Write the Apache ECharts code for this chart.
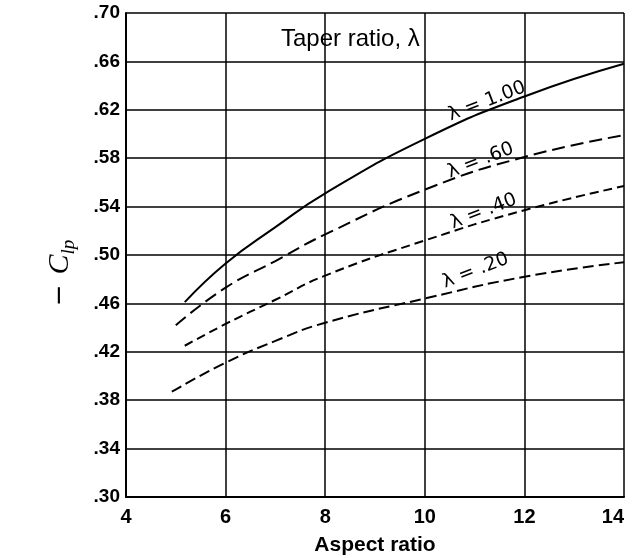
<!DOCTYPE html>
<html>
<head>
<meta charset="utf-8">
<script src="https://cdn.jsdelivr.net/npm/echarts@6/dist/echarts.min.js"></script>
<style>
  html, body { margin: 0; padding: 0; background: #fff; overflow: hidden; }
  #chart { width: 632px; height: 558px; }
</style>
</head>
<body>
<div id="chart"></div>
<script>
// values
var xTicks = [4, 6, 8, 10, 12, 14];
var yTicks = ['.30', '.34', '.38', '.42', '.46', '.50', '.54', '.58', '.62', '.66', '.70'];

var arTaper100 = [5.18, 6, 7, 8, 10, 12, 14];
var clpTaper100 = [0.461, 0.493, 0.523, 0.551, 0.596, 0.631, 0.658];

var arTaper60 = [5.0, 6, 7, 8, 10, 12, 14];
var clpTaper60 = [0.442, 0.473, 0.495, 0.517, 0.554, 0.581, 0.599];

var arTaper40 = [5.18, 6, 7, 8, 10, 12, 14];
var clpTaper40 = [0.425, 0.443, 0.463, 0.483, 0.512, 0.537, 0.557];

var arTaper20 = [4.92, 6, 7, 8, 10, 12, 14];
var clpTaper20 = [0.387, 0.411, 0.429, 0.444, 0.464, 0.482, 0.494];

var curveNames = ['\u03bb = 1.00', '\u03bb = .60', '\u03bb = .40', '\u03bb = .20'];
// where each curve's name sits (data units)
var labelAt = [[11.25, 0.627], [11.12, 0.578], [11.18, 0.536], [11.02, 0.487]];

function pairs(xs, ys) {
    var out = [];
    for (var i = 0; i < xs.length; i++) {
        out.push([xs[i], ys[i]]);
    }
    return out;
}

function makeSeries(idx, xs, ys, dash) {
    return {
        name: curveNames[idx],
        type: 'line',
        data: pairs(xs, ys),
        smooth: 0.5,
        showSymbol: false,
        silent: true,
        lineStyle: {
            color: '#000',
            width: 2,
            type: dash
        },
        markPoint: {
            symbol: 'circle',
            symbolSize: 1,
            itemStyle: { color: 'rgba(0,0,0,0)' },
            data: [{ coord: labelAt[idx], value: curveNames[idx] }],
            label: {
                show: true,
                position: 'inside',
                rotate: 21,
                color: '#000',
                fontSize: 19,
                fontFamily: 'DejaVu Sans',
                formatter: curveNames[idx]
            }
        }
    };
}

var myChart = echarts.init(document.getElementById('chart'));

var tickFont = {
    color: '#000',
    fontWeight: 'bold',
    fontFamily: 'Liberation Sans',
};

var option = {
    animation: false,
    backgroundColor: '#fff',
    grid: {
        left: 126,
        right: 8,
        top: 13,
        bottom: 61,
        outerBoundsMode: 'none'
    },
    graphic: [{
        type: 'text',
        left: 281,
        top: 27,
        style: {
            text: 'Taper ratio, \u03bb',
            fontSize: 24,
            fontFamily: 'Liberation Sans',
            fill: '#000'
        }
    }],
    xAxis: {
        type: 'value',
        min: 4,
        max: 14,
        interval: 2,
        name: 'Aspect ratio',
        nameLocation: 'middle',
        nameGap: 38,
        nameTextStyle: {
            color: '#000',
            fontSize: 21,
            fontWeight: 'bold',
            fontFamily: 'Liberation Sans'
        },
        axisLine: { lineStyle: { color: '#000', width: 2 } },
        axisTick: { show: false },
        axisLabel: Object.assign({ fontSize: 20, margin: 10, alignMaxLabel: 'right' }, tickFont),
        splitLine: { show: true, lineStyle: { color: '#000', width: 1.5 } }
    },
    yAxis: {
        type: 'value',
        min: 0.30,
        max: 0.70,
        interval: 0.04,
        name: '{m|\u2212}{c|C}{s|lp}',
        nameLocation: 'middle',
        nameRotate: 90,
        nameGap: 48,
        nameTextStyle: {
            padding: [0, 36, 0, 0],
            rich: {
                m: { fontSize: 26, fontFamily: 'DejaVu Sans', color: '#000', padding: [0, 10, 0, 0] },
                c: { fontSize: 30, fontStyle: 'italic', fontFamily: 'Liberation Serif', color: '#000' },
                s: { fontSize: 19, fontStyle: 'italic', fontFamily: 'Liberation Serif', color: '#000', verticalAlign: 'bottom', padding: [16, 0, 0, 0] }
            }
        },
        axisLine: { show: true, lineStyle: { color: '#000', width: 2 } },
        axisTick: { show: false },
        axisLabel: Object.assign({
            fontSize: 19,
            margin: 6,
            formatter: function (v) {
                var i = Math.round((v - 0.30) / 0.04);
                return yTicks[i];
            }
        }, tickFont),
        splitLine: { show: true, lineStyle: { color: '#000', width: 1.5 } }
    },
    series: [
        makeSeries(0, arTaper100, clpTaper100, 'solid'),
        makeSeries(1, arTaper60, clpTaper60, [13, 6]),
        makeSeries(2, arTaper40, clpTaper40, [9, 5]),
        makeSeries(3, arTaper20, clpTaper20, [11, 5])
    ]
};

myChart.setOption(option);
</script>
</body>
</html>
